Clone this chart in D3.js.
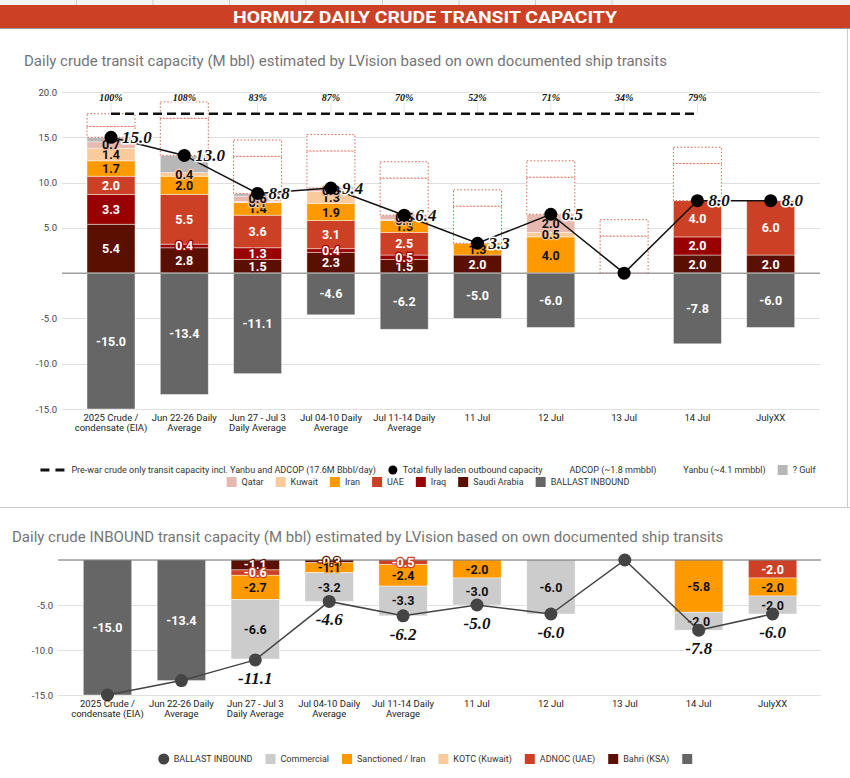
<!DOCTYPE html>
<html>
<head>
<meta charset="utf-8">
<script src="https://cdn.jsdelivr.net/npm/d3@7"></script>
<style>
  body { margin: 0; background: #fff; }
  svg { display: block; font-family: 'Roboto', sans-serif; }
  .grid { stroke: #e0e0e0; stroke-width: 1; }
  .tick-label { font-size: 9.5px; fill: #444; }
  .cat-label { font-size: 9.5px; fill: #222; }
  .seg-label { font-size: 12.5px; font-weight: 700; paint-order: stroke; stroke-width: 2.5px; stroke-linejoin: round; }
  .val-label { font-family: 'Liberation Serif', serif; font-style: italic; font-weight: 700; fill: #111;
               paint-order: stroke; stroke: #fff; stroke-width: 3px; stroke-linejoin: round; }
  .legend text { font-size: 9px; fill: #333; }
  .sub { font-size: 15px; fill: #757575; }
</style>
</head>
<body>
<svg id="chart" width="850" height="778"></svg>
<script>
  // ---- data ----
  const categoryLines = [
    ["2025 Crude /", "condensate (EIA)"], ["Jun 22-26 Daily", "Average"], ["Jun 27 - Jul 3", "Daily Average"],
    ["Jul 04-10 Daily", "Average"], ["Jul 11-14 Daily", "Average"], ["11 Jul"], ["12 Jul"], ["13 Jul"],
    ["14 Jul"], ["JulyXX"]
  ];
  const categories = categoryLines.map(l => l.join(" "));

  // outbound (top chart)
  const saudi  = [5.4, 2.8, 1.5, 2.3, 1.5, 2.0, 0,   0, 2.0, 2.0];
  const iraq   = [3.3, 0.4, 1.3, 0.4, 0.5, 0,   0,   0, 2.0, 0];
  const uae    = [2.0, 5.5, 3.6, 3.1, 2.5, 0,   0,   0, 4.0, 6.0];
  const iran   = [1.7, 2.0, 1.4, 1.9, 1.3, 1.3, 4.0, 0, 0,   0];
  const kuwait = [1.4, 0.4, 0.1, 1.3, 0.1, 0,   0.5, 0, 0,   0];
  const qatar  = [0.7, 0,   0.6, 0.3, 0.5, 0,   2.0, 0, 0,   0];
  const gulf   = [0.5, 1.9, 0.3, 0.1, 0,   0,   0,   0, 0,   0];
  const yanbu  = [1.2, 4.1, 4.1, 4.1, 4.1, 4.1, 4.1, 4.1, 4.1, 0];
  const adcop  = [1.4, 1.8, 1.8, 1.8, 1.8, 1.8, 1.8, 1.8, 1.8, 0];
  const ballastOut = [-15.0, -13.4, -11.1, -4.6, -6.2, -5.0, -6.0, 0, -7.8, -6.0];
  const totalOut   = [15.0, 13.0, 8.8, 9.4, 6.4, 3.3, 6.5, 0, 8.0, 8.0];
  const preWar     = [17.6, 17.6, 17.6, 17.6, 17.6, 17.6, 17.6, 17.6, 17.6, null];
  const pctLabels  = ["100%", "108%", "83%", "87%", "70%", "52%", "71%", "34%", "79%", ""];
  const topTicks   = [20, 15, 10, 5, -5, -10, -15];

  // inbound (bottom chart)
  const bahri      = [0, 0, -1.1, -0.3, 0, 0, 0, 0, 0, 0];
  const adnoc      = [0, 0, -0.6, 0, -0.5, 0, 0, 0, 0, -2.0];
  const kotc       = [0, 0, 0, 0, 0, 0, 0, 0, 0, 0];
  const sanctioned = [0, 0, -2.7, -1.1, -2.4, -2.0, 0, 0, -5.8, -2.0];
  const commercial = [0, 0, -6.6, -3.2, -3.3, -3.0, -6.0, 0, -2.0, -2.0];
  const otherIn    = [-15.0, -13.4, 0, 0, 0, 0, 0, 0, 0, 0];
  const ballastIn  = [-15.0, -13.4, -11.1, -4.6, -6.2, -5.0, -6.0, 0, -7.8, -6.0];
  const botTicks   = [-5, -10, -15];

  const fmt = v => v.toFixed(1);

  const svg = d3.select("#chart");

  // ---- sheet chrome + header ----
  svg.append("rect").attr("x", 0).attr("y", 0).attr("width", 850).attr("height", 5).attr("fill", "#f3f3f3");
  d3.range(1, 9).forEach(k => svg.append("line").attr("x1", k * 76.5).attr("x2", k * 76.5)
      .attr("y1", 0).attr("y2", 5).attr("stroke", "#d0d0d0"));
  svg.append("rect").attr("x", 0).attr("y", 5).attr("width", 850).attr("height", 23).attr("fill", "#cc4125");
  svg.append("line").attr("x1", 0).attr("x2", 850).attr("y1", 28.5).attr("y2", 28.5).attr("stroke", "#999");
  svg.append("text").attr("x", 425).attr("y", 23).attr("text-anchor", "middle")
      .attr("fill", "#fff").attr("font-size", 17).attr("font-weight", 700)
      .attr("textLength", 384).attr("lengthAdjust", "spacingAndGlyphs")
      .text("HORMUZ DAILY CRUDE TRANSIT CAPACITY");
  svg.append("line").attr("x1", 847.5).attr("x2", 847.5).attr("y1", 29).attr("y2", 507).attr("stroke", "#ccc");
  svg.append("line").attr("x1", 0).attr("x2", 850).attr("y1", 507.5).attr("y2", 507.5).attr("stroke", "#ccc");

  svg.append("text").attr("class", "sub").attr("x", 24).attr("y", 66)
      .text("Daily crude transit capacity (M bbl) estimated by LVision based on own documented ship transits");
  svg.append("text").attr("class", "sub").attr("x", 12).attr("y", 542)
      .text("Daily crude INBOUND transit capacity (M bbl) estimated by LVision based on own documented ship transits");

  // ---- legend helper ----
  function legendRow(items, cy, gap) {
    const g = svg.append("g").attr("class", "legend");
    const parts = items.map(it => {
      const ig = g.append("g");
      const symW = it.type === "dash" ? 26 : 10;
      if (it.type === "dash") {
        ig.append("line").attr("x1", 0).attr("x2", symW).attr("y1", cy).attr("y2", cy)
          .attr("stroke", "#111").attr("stroke-width", 3).attr("stroke-dasharray", "9,6");
      } else if (it.type === "circle") {
        ig.append("circle").attr("cx", 5).attr("cy", cy).attr("r", it.r || 4.5).attr("fill", it.color);
      } else {
        ig.append("rect").attr("x", 0).attr("y", cy - 5).attr("width", 10).attr("height", 10).attr("fill", it.color);
      }
      const t = ig.append("text").attr("x", symW + 5).attr("y", cy + 3.2).text(it.label);
      const w = symW + 5 + t.node().getComputedTextLength();
      return { ig, w };
    });
    const total = d3.sum(parts, p => p.w) + gap * (parts.length - 1);
    let x = 428 - total / 2;
    parts.forEach(p => { p.ig.attr("transform", `translate(${x},0)`); x += p.w + gap; });
  }

  // ================= TOP CHART =================
  const yTop = d3.scaleLinear().domain([-15, 20]).range([409, 92]);
  const xTop = d3.scaleBand().domain(categories).range([74.35, 807.35]).paddingInner(0.345).paddingOuter(0.1725);
  const cxTop = c => xTop(c) + xTop.bandwidth() / 2;

  const gTop = svg.append("g");
  topTicks.forEach(t => {
    gTop.append("line").attr("class", "grid").attr("x1", 62).attr("x2", 820)
      .attr("y1", Math.round(yTop(t)) + 0.5).attr("y2", Math.round(yTop(t)) + 0.5);
    gTop.append("text").attr("class", "tick-label").attr("x", 57).attr("y", yTop(t) + 3.5)
      .attr("text-anchor", "end").text(fmt(t));
  });

  // faint stems under the percentage labels
  categories.forEach((c, i) => {
    if (!pctLabels[i]) return;
    gTop.append("line").attr("x1", cxTop(c)).attr("x2", cxTop(c))
      .attr("y1", yTop(20) + 11).attr("y2", yTop(17.6)).attr("stroke", "#e6e6e6");
  });

  const topKeys = ["saudi", "iraq", "uae", "iran", "kuwait", "qatar", "gulf", "yanbu", "adcop", "ballast"];
  const topSeries = { saudi, iraq, uae, iran, kuwait, qatar, gulf, yanbu, adcop, ballast: ballastOut };
  const topFill = { saudi: "#5b0f00", iraq: "#990000", uae: "#cc4125", iran: "#ff9900", kuwait: "#f9cb9c",
                    qatar: "#e6b8af", gulf: "#b7b7b7", yanbu: "#fff", adcop: "#fff", ballast: "#666666" };
  const topText = { saudi: "#fff", iraq: "#fff", uae: "#fff", iran: "#111", kuwait: "#111", qatar: "#111", ballast: "#fff" };
  const topRows = categories.map((c, i) => {
    const r = { cat: c };
    topKeys.forEach(k => r[k] = topSeries[k][i]);
    return r;
  });
  const topStack = d3.stack().keys(topKeys).offset(d3.stackOffsetDiverging)(topRows);

  topStack.forEach(layer => {
    const boxed = layer.key === "yanbu" || layer.key === "adcop";
    gTop.append("g").selectAll("rect")
      .data(layer.filter(d => d[1] - d[0] !== 0))
      .join("rect")
        .attr("x", d => xTop(d.data.cat))
        .attr("width", xTop.bandwidth())
        .attr("y", d => yTop(Math.max(d[0], d[1])))
        .attr("height", d => Math.abs(yTop(d[0]) - yTop(d[1])))
        .attr("fill", topFill[layer.key])
        .attr("stroke", boxed ? "#d9624a" : "rgba(255,255,255,0.55)")
        .attr("stroke-width", boxed ? 1 : 0.8)
        .attr("stroke-dasharray", boxed ? "1.5,2" : null);
  });

  // zero line
  gTop.append("line").attr("x1", 62).attr("x2", 820).attr("y1", yTop(0)).attr("y2", yTop(0))
    .attr("stroke", "#9e9e9e").attr("stroke-width", 1.5);

  // segment labels
  topStack.forEach(layer => {
    if (!topText[layer.key]) return;
    gTop.append("g").selectAll("text")
      .data(layer.filter(d => d[1] - d[0] !== 0))
      .join("text")
        .attr("class", "seg-label")
        .attr("x", d => cxTop(d.data.cat))
        .attr("y", d => yTop((d[0] + d[1]) / 2) + 4.5)
        .attr("text-anchor", "middle")
        .attr("fill", topText[layer.key])
        .attr("stroke", topFill[layer.key])
        .text(d => fmt(d.data[layer.key]));
  });

  // pre-war dashed line
  gTop.append("path")
    .datum(preWar.map((v, i) => ({ c: categories[i], v })))
    .attr("fill", "none").attr("stroke", "#111").attr("stroke-width", 2.5).attr("stroke-dasharray", "9,5")
    .attr("d", d3.line().defined(d => d.v != null).x(d => cxTop(d.c)).y(d => yTop(d.v)));

  // percentage labels
  gTop.append("g").selectAll("text")
    .data(categories.map((c, i) => ({ c, t: pctLabels[i] })).filter(d => d.t))
    .join("text")
      .attr("class", "val-label").attr("font-size", 10).attr("stroke-width", 0)
      .attr("x", d => cxTop(d.c)).attr("y", yTop(20) + 9).attr("text-anchor", "middle")
      .text(d => d.t);

  // total outbound line
  const totalPts = categories.map((c, i) => ({ c, v: totalOut[i] }));
  gTop.append("path").datum(totalPts)
    .attr("fill", "none").attr("stroke", "#111").attr("stroke-width", 1.5)
    .attr("d", d3.line().x(d => cxTop(d.c)).y(d => yTop(d.v)));
  gTop.append("g").selectAll("circle").data(totalPts).join("circle")
    .attr("cx", d => cxTop(d.c)).attr("cy", d => yTop(d.v)).attr("r", 6.5).attr("fill", "#000");
  gTop.append("g").selectAll("text").data(totalPts.filter(d => d.v !== 0)).join("text")
    .attr("class", "val-label").attr("font-size", 17)
    .attr("x", d => cxTop(d.c) + 11).attr("y", d => yTop(d.v) + 5.5)
    .text(d => fmt(d.v));

  // category labels
  categories.forEach((c, i) => {
    const t = gTop.append("text").attr("class", "cat-label").attr("text-anchor", "middle");
    categoryLines[i].forEach((ln, j) => t.append("tspan").attr("x", cxTop(c)).attr("y", 421 + j * 10).text(ln));
  });

  legendRow([
    { type: "dash", label: "Pre-war crude only transit capacity incl. Yanbu and ADCOP (17.6M Bbbl/day)" },
    { type: "circle", color: "#000", label: "Total fully laden outbound capacity" },
    { type: "rect", color: "#fff", label: "ADCOP (~1.8 mmbbl)" },
    { type: "rect", color: "#fff", label: "Yanbu (~4.1 mmbbl)" },
    { type: "rect", color: "#b7b7b7", label: "? Gulf" }
  ], 470, 12);
  legendRow([
    { type: "rect", color: topFill.qatar, label: "Qatar" },
    { type: "rect", color: topFill.kuwait, label: "Kuwait" },
    { type: "rect", color: topFill.iran, label: "Iran" },
    { type: "rect", color: topFill.uae, label: "UAE" },
    { type: "rect", color: topFill.iraq, label: "Iraq" },
    { type: "rect", color: topFill.saudi, label: "Saudi Arabia" },
    { type: "rect", color: topFill.ballast, label: "BALLAST INBOUND" }
  ], 482, 12);

  // ================= BOTTOM CHART =================
  const yBot = d3.scaleLinear().domain([-15, 0]).range([695, 560]);
  const xBot = d3.scaleBand().domain(categories).range([70.55, 809.55]).paddingInner(0.345).paddingOuter(0.1725);
  const cxBot = c => xBot(c) + xBot.bandwidth() / 2;

  const gBot = svg.append("g");
  botTicks.forEach(t => {
    gBot.append("line").attr("class", "grid").attr("x1", 58).attr("x2", 821)
      .attr("y1", Math.round(yBot(t)) + 0.5).attr("y2", Math.round(yBot(t)) + 0.5);
    gBot.append("text").attr("class", "tick-label").attr("x", 53).attr("y", yBot(t) + 3.5)
      .attr("text-anchor", "end").text(fmt(t));
  });

  const botKeys = ["bahri", "adnoc", "kotc", "sanctioned", "commercial", "other"];
  const botSeries = { bahri, adnoc, kotc, sanctioned, commercial, other: otherIn };
  const botFill = { bahri: "#5b0f00", adnoc: "#cc4125", kotc: "#f9cb9c", sanctioned: "#ff9900",
                    commercial: "#cccccc", other: "#666666" };
  const botText = { bahri: "#fff", adnoc: "#fff", kotc: "#111", sanctioned: "#111", commercial: "#111", other: "#fff" };
  const botRows = categories.map((c, i) => {
    const r = { cat: c };
    botKeys.forEach(k => r[k] = botSeries[k][i]);
    return r;
  });
  const botStack = d3.stack().keys(botKeys).offset(d3.stackOffsetDiverging)(botRows);

  botStack.forEach(layer => {
    gBot.append("g").selectAll("rect")
      .data(layer.filter(d => d[1] - d[0] !== 0))
      .join("rect")
        .attr("x", d => xBot(d.data.cat))
        .attr("width", xBot.bandwidth())
        .attr("y", d => yBot(Math.max(d[0], d[1])))
        .attr("height", d => Math.abs(yBot(d[0]) - yBot(d[1])))
        .attr("fill", botFill[layer.key])
        .attr("stroke", "rgba(255,255,255,0.55)").attr("stroke-width", 0.8);
  });
  gBot.append("line").attr("x1", 58).attr("x2", 821).attr("y1", yBot(0)).attr("y2", yBot(0))
    .attr("stroke", "#666").attr("stroke-width", 1);

  botStack.forEach(layer => {
    gBot.append("g").selectAll("text")
      .data(layer.filter(d => d[1] - d[0] !== 0))
      .join("text")
        .attr("class", "seg-label")
        .attr("x", d => cxBot(d.data.cat))
        .attr("y", d => yBot((d[0] + d[1]) / 2) + 4.5)
        .attr("text-anchor", "middle")
        .attr("fill", botText[layer.key])
        .attr("stroke", botFill[layer.key])
        .text(d => fmt(d.data[layer.key]));
  });

  const inPts = categories.map((c, i) => ({ c, v: ballastIn[i] }));
  gBot.append("path").datum(inPts)
    .attr("fill", "none").attr("stroke", "#444").attr("stroke-width", 1.5)
    .attr("d", d3.line().x(d => cxBot(d.c)).y(d => yBot(d.v)));
  gBot.append("g").selectAll("circle").data(inPts).join("circle")
    .attr("cx", d => cxBot(d.c)).attr("cy", d => yBot(d.v)).attr("r", 6.5).attr("fill", "#444");
  // labels below points, only where they stay inside the plot
  gBot.append("g").selectAll("text")
    .data(inPts.filter(d => d.v !== 0 && yBot(d.v) + 24 < yBot(-15)))
    .join("text")
      .attr("class", "val-label").attr("font-size", 17).attr("text-anchor", "middle")
      .attr("x", d => cxBot(d.c)).attr("y", d => yBot(d.v) + 24)
      .text(d => fmt(d.v));

  categories.forEach((c, i) => {
    const t = gBot.append("text").attr("class", "cat-label").attr("text-anchor", "middle");
    categoryLines[i].forEach((ln, j) => t.append("tspan").attr("x", cxBot(c)).attr("y", 707 + j * 10).text(ln));
  });

  legendRow([
    { type: "circle", color: "#444", r: 5.5, label: "BALLAST INBOUND" },
    { type: "rect", color: botFill.commercial, label: "Commercial" },
    { type: "rect", color: botFill.sanctioned, label: "Sanctioned / Iran" },
    { type: "rect", color: botFill.kotc, label: "KOTC (Kuwait)" },
    { type: "rect", color: botFill.adnoc, label: "ADNOC (UAE)" },
    { type: "rect", color: botFill.bahri, label: "Bahri (KSA)" },
    { type: "rect", color: botFill.other, label: "" }
  ], 759, 13);
</script>
</body>
</html>
